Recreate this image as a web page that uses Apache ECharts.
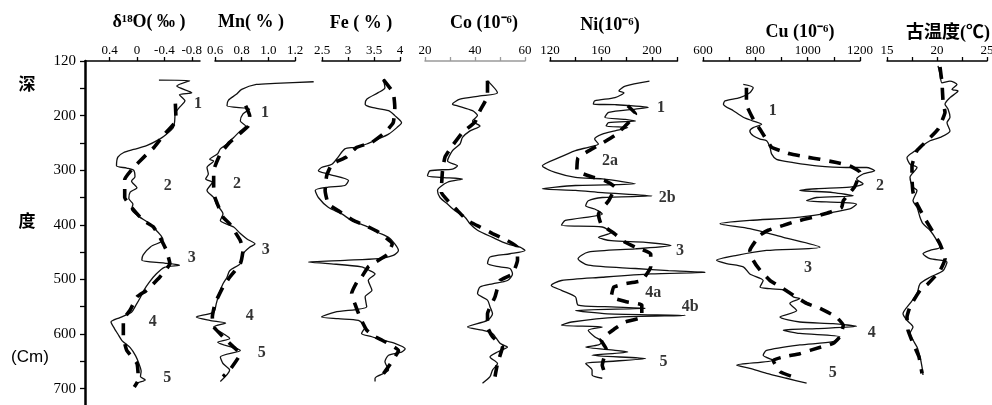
<!DOCTYPE html>
<html><head><meta charset="utf-8">
<script src="https://cdn.jsdelivr.net/npm/echarts@6/dist/echarts.min.js"></script>
<style>html,body{margin:0;padding:0;background:#fff}#c{width:992px;height:405px}</style>
</head><body><div id="c"></div>
<script>
// depth axis
const depthTicks = [100,200,300,400,500,600,700];
const depthTickLabels = ['120','200','300','400','500','600','700'];
const depthMinorTicks = [100,150,200,250,300,350,400,450,500,550,600,650,700];

// each pair: [depth (cm), value]
const o18Raw = [[135,-0.32],[136,-0.77],[146,-0.58],[158,-0.80],[162,-0.62],[173,-0.70],[185,-0.62],[195,-0.56],[210,-0.55],[222,-0.53],[234,-0.43],[243,-0.33],[255,-0.14],[262,0.05],[268,0.20],[276,0.28],[292,0.30],[296,0.15],[300,0.05],[312,0.03],[320,0.08],[332,0.00],[340,0.10],[352,0.12],[362,0.06],[372,0.08],[385,-0.03],[395,-0.15],[405,-0.24],[420,-0.35],[428,-0.38],[440,-0.20],[455,-0.09],[465,-0.07],[470,-0.40],[474,-0.62],[478,-0.40],[490,-0.28],[505,-0.18],[520,-0.10],[535,-0.04],[548,0.02],[560,0.08],[570,0.25],[578,0.38],[590,0.33],[600,0.28],[612,0.22],[625,0.10],[640,0.02],[655,-0.03],[668,-0.06],[678,-0.05],[684,-0.12],[690,0.0],[697,0.03]];
const o18Trend = [[178,-0.56],[209,-0.57],[234,-0.40],[258,-0.25],[276,-0.10],[295,0.05],[317,0.18],[350,0.18],[368,0.08],[392,-0.09],[404,-0.24],[429,-0.36],[447,-0.43],[471,-0.48],[496,-0.33],[520,-0.14],[532,0.0],[556,0.10],[574,0.20],[605,0.20],[630,0.15],[654,0.0],[684,-0.02],[697,0.04]];
const o18Marks = [[178,-0.89,'1'],[328,-0.45,'2'],[461,-0.80,'3'],[578,-0.23,'4'],[680,-0.44,'5']];
const o18Ticks = [0.4,0,-0.4,-0.8];

const mnRaw = [[138,1.34],[141,1.05],[143,0.91],[152,0.80],[161,0.76],[172,0.70],[182,0.69],[188,0.86],[197,0.81],[210,0.79],[219,0.83],[228,0.79],[240,0.74],[252,0.69],[261,0.64],[270,0.62],[280,0.56],[283,0.59],[295,0.54],[307,0.55],[316,0.53],[322,0.58],[337,0.54],[350,0.59],[362,0.61],[380,0.66],[392,0.64],[404,0.74],[416,0.79],[426,0.84],[435,0.90],[441,0.86],[453,0.81],[471,0.79],[484,0.71],[496,0.69],[508,0.66],[526,0.63],[544,0.61],[560,0.59],[569,0.46],[575,0.56],[580,0.68],[587,0.59],[599,0.66],[608,0.71],[615,0.62],[630,0.79],[642,0.64],[654,0.66],[666,0.71],[687,0.64]];
const mnTrend = [[182,0.83],[200,0.86],[219,0.85],[249,0.71],[270,0.64],[301,0.59],[331,0.59],[350,0.60],[386,0.66],[398,0.71],[429,0.79],[447,0.81],[471,0.79],[496,0.71],[514,0.66],[544,0.60],[569,0.58],[587,0.59],[605,0.66],[624,0.74],[636,0.79],[666,0.71],[678,0.66]];
const mnMarks = [[195,0.975,'1'],[325,0.765,'2'],[445,0.98,'3'],[566,0.86,'4'],[635,0.95,'5']];
const mnTicks = [0.6,0.8,1.0,1.2];

const feRaw = [[133,3.68],[149,3.71],[158,3.58],[170,3.36],[179,3.33],[185,3.46],[191,3.78],[200,3.90],[213,4.03],[222,3.94],[234,3.78],[243,3.58],[252,3.36],[258,3.13],[261,2.94],[276,2.81],[289,2.69],[295,2.49],[301,2.43],[307,2.62],[319,3.01],[328,2.94],[331,2.62],[337,2.37],[350,2.43],[368,2.62],[380,2.88],[392,3.07],[404,3.39],[414,3.58],[423,3.78],[435,3.90],[447,3.97],[456,3.87],[462,3.58],[465,2.94],[468,2.24],[471,2.62],[477,3.26],[484,3.42],[490,3.52],[502,3.39],[520,3.46],[532,3.33],[550,3.36],[560,2.75],[569,2.49],[572,2.81],[575,3.20],[587,3.33],[599,3.26],[605,3.46],[611,3.65],[617,3.90],[627,4.10],[633,4.03],[639,3.78],[651,3.71],[666,3.78],[681,3.52],[687,3.52]];
const feTrend = [[134,3.68],[158,3.87],[185,3.90],[213,3.87],[231,3.71],[249,3.46],[258,3.17],[276,2.97],[289,2.69],[310,2.59],[337,2.56],[362,2.62],[374,2.81],[392,3.10],[401,3.33],[413,3.58],[435,3.85],[455,3.75],[477,3.39],[496,3.26],[505,3.17],[526,3.07],[544,3.13],[569,3.23],[593,3.36],[605,3.52],[611,3.65],[630,3.97],[669,3.71],[684,3.58]];
const feTicks = [2.5,3,3.5,4];

const coRaw = [[136,45],[158,49],[164,42],[170,34],[179,31],[182,33],[191,39],[200,41],[210,39],[219,42],[228,38],[240,35],[252,34],[264,31],[283,29],[292,33],[298,31],[301,22],[310,21],[313,26],[316,35],[322,29],[337,25],[350,26],[362,29],[374,32],[386,36],[398,38],[410,41],[423,47],[435,53],[441,58],[447,60],[453,54],[459,46],[471,45],[477,50],[480,54],[490,55],[502,53],[508,47],[514,42],[526,41],[538,45],[550,46],[563,47],[575,45],[587,37],[593,43],[599,47],[617,50],[624,53],[633,49],[642,46],[654,49],[666,47],[678,46],[690,43]];
const coTrend = [[136,45],[164,45],[191,42],[212,40],[231,35],[255,31],[276,28],[301,27],[340,26.5],[374,33],[392,37],[404,42],[416,47],[429,53],[441,57],[465,57],[490,55],[502,50],[532,48],[563,45],[587,45],[605,47],[624,51],[654,49],[678,48]];
const coLabelTicks = [20,40,60];
const coTicks = [20,30,40,50,60];

const niRaw = [[137,198],[146,179],[155,174],[158,178],[167,171],[173,155],[179,154],[180,171],[185,197],[188,187],[194,166],[203,163],[207,179],[210,187],[213,166],[219,164],[222,181],[228,171],[234,161],[243,155],[252,158],[258,150],[264,140],[277,127],[292,114],[304,124],[313,140],[316,161],[325,187],[328,140],[334,114],[337,140],[341,161],[347,200],[350,161],[356,150],[365,148],[371,155],[380,161],[392,132],[401,129],[404,161],[414,168],[423,158],[429,168],[432,195],[438,215],[444,187],[450,150],[462,142],[474,150],[480,187],[484,213],[487,242],[490,199],[496,161],[502,129],[511,121],[520,129],[532,140],[547,142],[550,163],[553,195],[557,140],[563,165],[566,226],[569,174],[578,137],[584,129],[587,161],[593,150],[605,155],[614,161],[620,158],[624,148],[630,171],[633,181],[639,153],[645,195],[651,161],[654,148],[666,153],[675,153],[681,161]];
const niTrend = [[182,181],[197,187],[219,179],[236,171],[252,160],[261,153],[277,142],[301,141],[313,154],[319,163],[331,171],[356,166],[380,158],[398,160],[417,171],[432,179],[441,187],[453,199],[477,199],[502,192],[508,179],[514,170],[532,168],[541,180],[547,192],[569,192],[578,179],[590,171],[611,160],[627,164],[657,161],[672,163]];
const niMarks = [[186,207,'1'],[283,167,'2a'],[350,212,'2b'],[447,222,'3'],[525,201,'4a'],[551,230,'4b'],[651,209,'5']];
const niLabelTicks = [120,160,200];
const niTicks = [120,140,160,180,200,220];

const cuRaw = [[143,754],[149,792],[158,779],[167,741],[173,684],[179,678],[191,716],[203,754],[210,792],[216,824],[222,792],[228,779],[237,792],[243,818],[246,843],[258,856],[270,862],[280,881],[286,945],[292,1034],[295,1148],[295,1225],[301,1256],[307,1212],[316,1187],[325,1212],[331,1161],[334,1034],[337,970],[341,1097],[347,1174],[350,1034],[356,996],[359,1123],[362,1187],[371,1161],[386,970],[392,779],[398,665],[407,779],[423,907],[441,1047],[447,843],[456,729],[465,652],[471,690],[477,754],[490,779],[502,830],[514,818],[517,856],[520,919],[532,945],[535,970],[544,932],[557,958],[569,894],[578,970],[581,1097],[586,1187],[590,1034],[593,907],[599,970],[605,1123],[614,1097],[620,970],[630,843],[639,830],[648,868],[657,729],[663,779],[672,843],[681,919],[690,996]];
const cuTrend = [[149,766],[179,766],[210,796],[228,822],[258,862],[264,894],[270,932],[276,996],[280,1047],[286,1110],[292,1161],[304,1200],[330,1180],[356,1136],[368,1130],[377,1085],[386,1021],[395,945],[401,907],[410,849],[419,818],[447,779],[465,792],[483,818],[502,856],[517,907],[529,945],[544,996],[553,1047],[569,1110],[584,1136],[605,1123],[617,1097],[630,1009],[636,970],[642,907],[648,868],[669,894],[681,958]];
const cuMarks = [[191,867,'1'],[328,1276,'2'],[478,1001,'3'],[597,1245,'4'],[672,1096,'5']];
const cuLabelTicks = [600,800,1000,1200];
const cuTicks = [600,700,800,900,1000,1100,1200];

const tRaw = [[109,20.1],[124,20.3],[140,20.5],[137,21.3],[143,22.0],[152,21.5],[155,22.1],[167,21.3],[179,20.8],[188,21.1],[203,21.3],[213,21.0],[228,21.3],[240,20.3],[246,19.3],[258,18.3],[267,17.6],[277,17.0],[289,17.3],[295,18.0],[313,17.3],[331,17.6],[337,18.0],[356,17.6],[368,18.0],[386,18.3],[398,18.6],[410,19.3],[429,20.0],[441,20.3],[447,19.3],[453,18.6],[462,19.3],[468,21.0],[484,20.6],[496,19.3],[508,18.3],[526,18.0],[544,17.3],[563,16.6],[575,17.0],[587,17.6],[599,17.3],[611,17.6],[624,18.0],[642,18.3],[660,18.5],[675,18.6]];
const tTrend = [[111,20.3],[140,20.5],[173,20.6],[194,20.8],[225,20.1],[246,19.0],[264,18.0],[292,17.5],[316,17.5],[340,17.6],[362,18.0],[389,18.8],[398,19.1],[435,20.3],[462,20.8],[484,20.3],[508,19.1],[520,18.3],[550,17.3],[569,17.0],[593,17.1],[617,17.6],[642,18.2],[672,18.5]];
const tLabelTicks = [15,20,25];
const tTicks = [15,17.5,20,22.5,25];

const panels = [
  {title:'δ¹⁸O( ‰ )', tx:149, ty:22, left:85, width:115, min:-0.92, max:0.76, inverse:true, labels:o18Ticks, ticks:o18Ticks, raw:o18Raw, trend:o18Trend, marks:o18Marks, fmt:v=>String(v)},
  {title:'Mn( % )', tx:251, ty:22, left:215, width:80, min:0.6, max:1.2, labels:mnTicks, ticks:mnTicks, raw:mnRaw, trend:mnTrend, marks:mnMarks, fmt:v=>v.toFixed(1)},
  {title:'Fe ( % )', tx:361, ty:23, left:322, width:78, min:2.5, max:4, labels:feTicks, ticks:feTicks, raw:feRaw, trend:feTrend, marks:[], fmt:v=>String(v)},
  {title:'Co (10⁻⁶)', tx:484, ty:23, left:425, width:100, min:20, max:60, labels:coLabelTicks, ticks:coTicks, raw:coRaw, trend:coTrend, marks:[], fmt:v=>String(v), axisColor:'#9a9a9a'},
  {title:'Ni(10⁻⁶)', tx:610, ty:25, left:550, width:127.5, min:120, max:220, labels:niLabelTicks, ticks:niTicks, raw:niRaw, trend:niTrend, marks:niMarks, fmt:v=>String(v)},
  {title:'Cu (10⁻⁶)', tx:800, ty:32, left:703, width:157, min:600, max:1200, labels:cuLabelTicks, ticks:cuTicks, raw:cuRaw, trend:cuTrend, marks:cuMarks, fmt:v=>String(v)},
  {title:'古温度(℃)', tx:948, ty:33, left:887, width:100, min:15, max:25, labels:tLabelTicks, ticks:tTicks, raw:tRaw, trend:tTrend, marks:[], fmt:v=>String(v)}
];

const serif = '"Liberation Serif", "Noto Sans CJK SC", serif';
const PAD = 40; // data grid extends beyond the drawn axis so curves may overflow it
const grid = [], xAxis = [], yAxis = [], series = [], graphic = [];
const depthAxis = (gi, show) => ({
  gridIndex:gi, type:'value', inverse:true, min:100, max:730,
  splitLine:{show:false},
  axisLine:{show:show, onZero:false, lineStyle:{color:'#000', width:2.5}},
  axisTick:{show:show, customValues:depthMinorTicks, length:5, lineStyle:{color:'#000', width:1.3}},
  axisLabel:{show:show, customValues:depthTicks, margin:9, color:'#000', fontFamily:serif, fontSize:15,
    formatter:v => depthTickLabels[depthTicks.indexOf(v)]}
});
panels.forEach((p, i) => {
  const ac = p.axisColor || '#000';
  // axis grid (visible top axis)
  const ag = grid.length;
  grid.push({left:p.left, width:p.width, top:61, bottom:0, outerBoundsMode:'none', containLabel:false});
  xAxis.push({
    gridIndex:ag, type:'value', position:'top', min:p.min, max:p.max, inverse:!!p.inverse,
    splitLine:{show:false},
    axisLine:{show:true, onZero:false, lineStyle:{color:ac, width:1.5}},
    axisTick:{show:true, customValues:p.ticks, length:4, lineStyle:{color:ac, width:1.3}},
    axisLabel:{show:true, customValues:p.labels, margin:4, formatter:p.fmt, color:'#000', fontFamily:serif, fontSize:13}
  });
  yAxis.push(depthAxis(ag, i === 0));
  // data grid (same scale, wider)
  const dg = grid.length;
  const pxPerUnit = p.width / (p.max - p.min);
  grid.push({left:p.left - PAD, width:p.width + 2 * PAD, top:61, bottom:0, outerBoundsMode:'none', containLabel:false});
  xAxis.push({gridIndex:dg, type:'value', show:false, inverse:!!p.inverse,
    min:p.min - PAD / pxPerUnit, max:p.max + PAD / pxPerUnit, splitLine:{show:false}});
  yAxis.push(depthAxis(dg, false));
  series.push({
    type:'line', xAxisIndex:dg, yAxisIndex:dg, data:p.raw.map(d=>[d[1], d[0]]),
    symbol:'none', smooth:0.25, clip:false, silent:true,
    lineStyle:{color:'#111', width:1.3}
  });
  series.push({
    type:'line', xAxisIndex:dg, yAxisIndex:dg, data:p.trend.map(d=>[d[1], d[0]]),
    symbol:'none', smooth:0.12, clip:false, silent:true,
    lineStyle:{color:'#000', width:3.6, type:[12,9]}
  });
  if (p.marks.length) series.push({
    type:'scatter', xAxisIndex:dg, yAxisIndex:dg, data:p.marks.map(d=>[d[1], d[0], d[2]]),
    symbolSize:0, clip:false, silent:true,
    label:{show:true, position:'inside', formatter:q=>q.data[2], color:'#000', fontFamily:serif, fontSize:16, fontWeight:'bold'}
  });
  graphic.push({type:'text', x:p.tx, y:p.ty, style:{text:p.title, fill:'#000', font:'bold 18px ' + serif, textAlign:'center', textVerticalAlign:'middle', align:'center', verticalAlign:'middle'}});
});
graphic.push({type:'text', x:27, y:84, style:{text:'深', fill:'#000', font:'bold 17px "Noto Sans CJK SC"', align:'center', verticalAlign:'middle', textAlign:'center', textVerticalAlign:'middle'}});
graphic.push({type:'text', x:27, y:221, style:{text:'度', fill:'#000', font:'bold 17px "Noto Sans CJK SC"', align:'center', verticalAlign:'middle', textAlign:'center', textVerticalAlign:'middle'}});
graphic.push({type:'text', x:30, y:357, style:{text:'(Cm)', fill:'#000', font:'17px "Liberation Sans"', align:'center', verticalAlign:'middle', textAlign:'center', textVerticalAlign:'middle'}});

const chart = echarts.init(document.getElementById('c'), null, {renderer:'canvas'});
chart.setOption({animation:false, backgroundColor:'#fff', grid, xAxis, yAxis, series, graphic});
</script>
</body></html>
